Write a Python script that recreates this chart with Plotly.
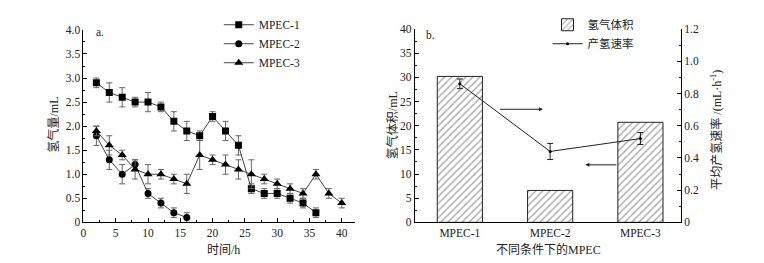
import plotly.graph_objects as go

# ---- data: panel a ----
t1 = [2, 4, 6, 8, 10, 12, 14, 16, 18, 20, 22, 24, 26, 28, 30, 32, 34, 36]
mpec1 = [2.9, 2.7, 2.6, 2.5, 2.5, 2.4, 2.1, 1.9, 1.8, 2.2, 1.9, 1.6, 0.7, 0.6, 0.6, 0.5, 0.4, 0.2]
mpec1_err = [0.1, 0.2, 0.2, 0.1, 0.2, 0.1, 0.2, 0.2, 0.1, 0.1, 0.2, 0.2, 0.1, 0.1, 0.1, 0.1, 0.1, 0.1]
t2 = [2, 4, 6, 8, 10, 12, 14, 16]
mpec2 = [1.8, 1.3, 1.0, 1.2, 0.6, 0.4, 0.2, 0.1]
mpec2_err = [0.2, 0.2, 0.2, 0.1, 0.1, 0.1, 0.1, 0.1]
t3 = [2, 4, 6, 8, 10, 12, 14, 16, 18, 20, 22, 24, 26, 28, 30, 32, 34, 36, 38, 40]
mpec3 = [1.9, 1.6, 1.4, 1.1, 1.0, 1.0, 0.9, 0.8, 1.4, 1.3, 1.2, 1.1, 1.0, 0.9, 0.8, 0.7, 0.6, 1.0, 0.6, 0.4]
mpec3_err = [0.1, 0.2, 0.1, 0.2, 0.2, 0.1, 0.1, 0.2, 0.3, 0.1, 0.2, 0.2, 0.3, 0.1, 0.1, 0.1, 0.1, 0.1, 0.1, 0.1]
ya_ticks = [0, 0.5, 1.0, 1.5, 2.0, 2.5, 3.0, 3.5, 4.0]
ya_labels = ["0", "0.5", "1.0", "1.5", "2.0", "2.5", "3.0", "3.5", "4.0"]

# ---- data: panel b ----
conds = ["MPEC-1", "MPEC-2", "MPEC-3"]
h2_volume = [30.2, 6.6, 20.7]
h2_rate = [0.86, 0.44, 0.52]
h2_rate_err = [0.03, 0.05, 0.037]
yr_ticks = [0, 0.2, 0.4, 0.6, 0.8, 1.0, 1.2]
yr_labels = ["0", "0.2", "0.4", "0.6", "0.8", "1.0", "1.2"]

FONT = "'Liberation Serif', 'Times New Roman', 'Noto Sans CJK SC', serif"
FS = 11.5
LINE = "#444"
ERR = "#666"

fig = go.Figure()

def series(x, y, e, sym, size, name):
    fig.add_trace(go.Scatter(
        x=x, y=y, name=name, mode="lines+markers",
        line=dict(color=LINE, width=1),
        marker=dict(symbol=sym, size=size, color="black"),
        error_y=dict(type="data", array=e, color=ERR, thickness=1, width=3),
        xaxis="x", yaxis="y", legend="legend"))

series(t1, mpec1, mpec1_err, "square", 7, "MPEC-1")
series(t2, mpec2, mpec2_err, "circle", 7, "MPEC-2")
series(t3, mpec3, mpec3_err, "triangle-up", 8, "MPEC-3")

fig.add_trace(go.Bar(
    x=conds, y=h2_volume, name="氢气体积", width=0.5,
    marker=dict(color="white", line=dict(color="#222", width=1),
                pattern=dict(shape="/", fgcolor="#444", bgcolor="white", size=5, solidity=0.25)),
    xaxis="x2", yaxis="y2", legend="legend2"))
fig.add_trace(go.Scatter(
    x=conds, y=h2_rate, name="产氢速率", mode="lines+markers",
    line=dict(color="#222", width=1),
    marker=dict(symbol="circle", size=3, color="black"),
    error_y=dict(type="data", array=h2_rate_err, color="#222", thickness=1, width=3),
    xaxis="x2", yaxis="y3", legend="legend2"))

axis_common = dict(showline=True, linecolor="black", linewidth=1, ticks="inside",
                   ticklen=4, tickcolor="black", showgrid=False, zeroline=False,
                   tickfont=dict(family=FONT, size=FS, color="#222"))

fig.update_layout(
    width=764, height=263,
    margin=dict(l=0, r=0, t=0, b=0),
    paper_bgcolor="white", plot_bgcolor="white",
    font=dict(family=FONT, size=FS, color="#222"),
    xaxis=dict(domain=[0.0952, 0.4516], range=[0, 42], tickvals=[0, 5, 10, 15, 20, 25, 30, 35, 40],
               minor=dict(dtick=2.5, tick0=0, ticks="inside", ticklen=2, tickcolor="black"),
               anchor="y", **axis_common),
    yaxis=dict(domain=[0.170, 0.9365], range=[0, 4], tickvals=ya_ticks, ticktext=ya_labels,
               minor=dict(dtick=0.25, tick0=0, ticks="inside", ticklen=2, tickcolor="black"),
               anchor="x", **axis_common),
    xaxis2=dict(domain=[0.5305, 0.8805], range=[-0.5, 2.45], type="category", anchor="y2",
                showline=True, linecolor="black", linewidth=1, ticks="", showgrid=False,
                tickfont=dict(family=FONT, size=FS, color="#222")),
    yaxis2=dict(domain=[0.170, 0.940], range=[0, 40], dtick=5, anchor="x2",
                minor=dict(dtick=2.5, ticks="inside", ticklen=2, tickcolor="black"),
                **axis_common),
    yaxis3=dict(range=[0, 1.2], tickvals=yr_ticks, ticktext=yr_labels, overlaying="y2",
                side="right", anchor="x2",
                minor=dict(dtick=0.1, ticks="inside", ticklen=2, tickcolor="black"),
                **axis_common),
    legend=dict(x=0.273, y=1.015, xanchor="left", yanchor="top", bgcolor="rgba(0,0,0,0)",
                font=dict(family=FONT, size=FS), tracegroupgap=0, itemwidth=30),
    legend2=dict(x=0.705, y=1.015, xanchor="left", yanchor="top", bgcolor="rgba(0,0,0,0)",
                 font=dict(family=FONT, size=FS), itemwidth=30),
    showlegend=True,
)

ann = [
    dict(text="a.", x=89, y=19),
    dict(text="b.", x=421, y=22),
    dict(text="时间/h", x=213, y=247),
    dict(text="不同条件下的MPEC", x=540, y=247),
    dict(text="氢气量/mL", x=43, y=116, textangle=-90),
    dict(text="氢气体积/mL", x=383, y=116, textangle=-90),
    dict(text="平均产氢速率 /(mL·h<sup>-1</sup>)", x=708, y=121, textangle=-90),
]
for a in ann:
    fig.add_annotation(xref="paper", yref="paper", x=a["x"] / 764, y=1 - a["y"] / 263,
                       text=a["text"], showarrow=False, textangle=a.get("textangle", 0),
                       font=dict(family=FONT, size=12 if a["text"] not in ("a.", "b.") else FS, color="#222"),
                       xanchor="center", yanchor="middle")

# arrows indicating which axis each series uses
fig.add_annotation(xref="x2", yref="y2", axref="x2", ayref="y2",
                   x=0.92, y=23.4, ax=0.43, ay=23.4, text="", showarrow=True,
                   arrowhead=2, arrowsize=0.8, arrowwidth=1, arrowcolor="#222")
fig.add_annotation(xref="x2", yref="y2", axref="x2", ayref="y2",
                   x=1.39, y=11.9, ax=1.75, ay=11.9, text="", showarrow=True,
                   arrowhead=2, arrowsize=0.8, arrowwidth=1, arrowcolor="#222")

fig.write_html("out.html")
